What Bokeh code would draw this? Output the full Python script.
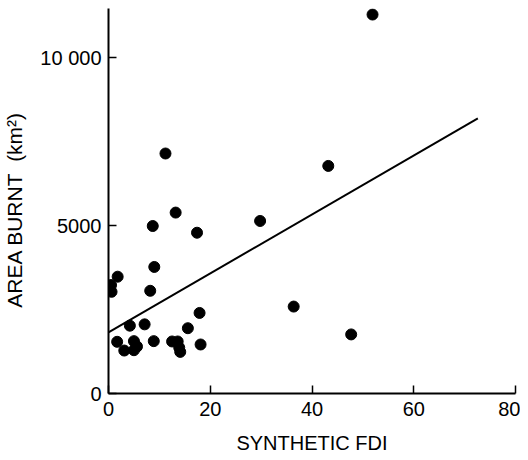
from bokeh.plotting import figure
from bokeh.models import FixedTicker, Range1d
from bokeh.embed import file_html
from bokeh.resources import INLINE

# Data
fdi = [0.5, 0.6, 1.8, 1.7, 3.1, 4.2, 5.0, 5.6, 5.0, 7.1, 8.2, 8.9, 8.7, 9.0,
       11.2, 12.5, 13.2, 13.6, 13.9, 14.1, 15.6, 17.4, 17.9, 18.1,
       29.8, 36.4, 43.2, 47.7, 51.9]
area = [3230, 3030, 3480, 1540, 1280, 2020, 1560, 1400, 1290, 2060, 3060, 1560, 4990, 3770,
        7150, 1550, 5390, 1550, 1370, 1240, 1945, 4790, 2400, 1460,
        5140, 2590, 6780, 1760, 11290]

# Fitted regression line (end points)
fit_x = [0.0, 72.6]
fit_y = [1820, 8200]

x_ticks = [0, 20, 40, 60, 80]
y_ticks = [0, 5000, 10000]
y_tick_labels = {0: "0", 5000: "5000", 10000: "10 000"}
x_title = "SYNTHETIC FDI"
y_title = "AREA BURNT\u00a0\u00a0(km\u00b2)\u00a0\u00a0\u00a0"

FONT = "Liberation Sans"

p = figure(frame_width=407, frame_height=385, output_backend="svg", toolbar_location=None,
           x_range=Range1d(0, 80), y_range=Range1d(0, 11470),
           min_border_left=108, min_border_right=5, min_border_top=8, min_border_bottom=67)
p.title.visible = False
p.outline_line_color = None
p.grid.visible = False
p.background_fill_color = "white"
p.border_fill_color = "white"

p.line(fit_x, fit_y, line_color="black", line_width=2)
p.scatter(fdi, area, size=11, fill_color="black", line_color="black")

for ax in (p.xaxis[0], p.yaxis[0]):
    ax.axis_line_width = 2
    ax.axis_line_color = "black"
    ax.major_tick_in = 8
    ax.major_tick_out = 0
    ax.major_tick_line_width = 1.5
    ax.major_tick_line_color = "black"
    ax.minor_tick_line_color = None
    ax.major_label_text_font = FONT
    ax.major_label_text_font_size = "20px"
    ax.major_label_text_color = "black"
    ax.axis_label_text_font = FONT
    ax.axis_label_text_font_style = "normal"
    ax.axis_label_text_color = "black"

p.xaxis.ticker = FixedTicker(ticks=x_ticks)
p.yaxis.ticker = FixedTicker(ticks=y_ticks)
p.yaxis.major_label_overrides = y_tick_labels
p.xaxis.major_label_standoff = 8
p.yaxis.major_label_standoff = 7
p.xaxis.axis_label = x_title
p.yaxis.axis_label = y_title
p.xaxis.axis_label_text_font_size = "20px"
p.yaxis.axis_label_text_font_size = "21px"
p.xaxis.axis_label_standoff = 13
p.yaxis.axis_label_standoff = 11

open("out.html", "w").write(file_html(p, INLINE))
